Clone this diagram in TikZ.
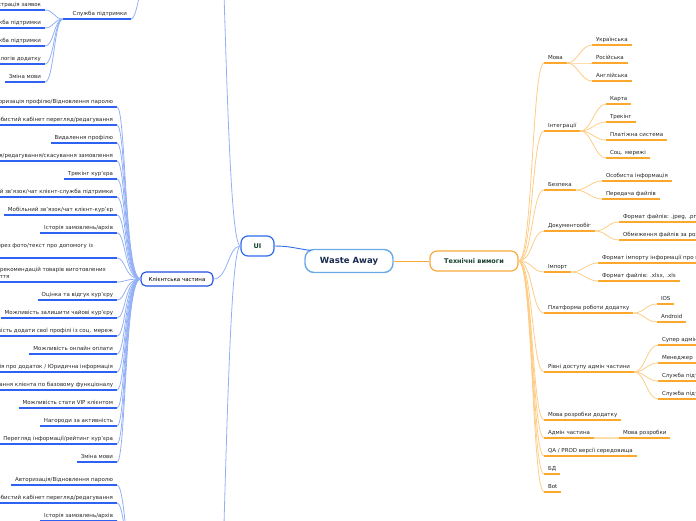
\documentclass[tikz,border=0pt]{standalone}
\usepackage{fontspec}
\setmainfont{DejaVu Sans}
\definecolor{txt}{HTML}{262626}
\definecolor{lblue}{HTML}{2F62F0}
\definecolor{lcur}{HTML}{93B0F6}
\definecolor{uib}{HTML}{2E6BF0}
\definecolor{kcb}{HTML}{1D4FE0}
\definecolor{wab}{HTML}{6AAAE4}
\definecolor{wat}{HTML}{1B2A50}
\definecolor{grn}{HTML}{17412F}
\definecolor{oru}{HTML}{FBA82C}
\definecolor{orc}{HTML}{FDCD86}
\definecolor{orl}{HTML}{FDDDAA}
\definecolor{tvb}{HTML}{F8AA3C}
\newcommand{\LL}[4]{\node[lleaf] (#1) at (#2,#3) {#4}; \draw[bul] (#1.south west) -- (#1.south east);}
\newcommand{\RL}[4]{\node[rleaf] (#1) at (#2,#3) {#4}; \draw[oul] (#1.south west) -- (#1.south east);}
\begin{document}
\begin{tikzpicture}[x=1pt,y=-1pt,
  leafbase/.style={inner xsep=4pt, inner ysep=0pt, outer sep=0pt, text height=4pt, text depth=3.5pt, font=\fontsize{5.5}{7}\selectfont, text=txt},
  lleaf/.style={leafbase, anchor=south east},
  rleaf/.style={leafbase, anchor=south west},
  mleaf/.style={inner xsep=4pt, inner ysep=0pt, outer sep=0pt, align=left, anchor=south east, font=\fontsize{5.5}{7}\selectfont, text=txt},
  bul/.style={draw=lblue, line width=1.8pt},
  bcur/.style={draw=lcur, line width=0.8pt},
  oul/.style={draw=oru, line width=1.8pt},
  ocur/.style={draw=orc, line width=0.8pt},
  olink/.style={draw=orl, line width=1.8pt},
  hub/.style={rounded corners=7pt, fill=white, inner sep=0pt, font=\bfseries\fontsize{6.5}{8}\selectfont},
]
\useasboundingbox (0,0) rectangle (696,520);

% ---------- central nodes ----------
\node[hub, draw=wab, line width=1.4pt, minimum width=88pt, minimum height=23pt, rounded corners=9pt, text=wat, font=\bfseries\fontsize{8.5}{10}\selectfont] (wa) at (349,261) {Waste Away};
\node[hub, draw=uib, line width=1.2pt, minimum width=33pt, minimum height=20pt, text=grn] (ui) at (257.5,246) {UI};
\node[hub, draw=tvb, line width=1.2pt, minimum width=88pt, minimum height=20pt, text=grn] (tv) at (474,261) {Технічні вимоги};
\node[draw=kcb, line width=1.1pt, rounded corners=5pt, fill=white, minimum width=72pt, minimum height=14pt, inner sep=0pt, font=\fontsize{5.5}{7}\selectfont, text=black] (kc) at (177,279) {Клієнтська частина};

\coordinate (wain) at (311,250.5);
\draw[draw=uib, line width=0.9pt] (ui.east) .. controls +(15,0) and +(-15,-2) .. (wain);
\draw[draw=tvb, line width=0.9pt] (wa.east) -- (tv.west);

\coordinate (uptop) at (223,-40);
\coordinate (dnbot) at (223,560);
\draw[bcur] (ui.west) .. controls (232,246) and (228,130) .. (uptop);
\draw[bcur] (ui.west) .. controls (232,246) and (228,380) .. (dnbot);
\draw[bcur] (kc.east) .. controls (228,279) and (228,246) .. (ui.west);

% ---------- top group: Служба підтримки ----------
\LL{t1}{45}{10}{Реєстрація заявок}
\LL{t2}{45}{28}{Мобільний зв'язок/чат клієнт-служба підтримки}
\LL{t3}{45}{46}{Мобільний зв'язок/чат кур'єр-служба підтримки}
\LL{t4}{45}{64}{Перегляд логів додатку}
\LL{t5}{45}{82}{Зміна мови}
\node[lleaf] (sp) at (131,19) {Служба підтримки};
\coordinate (spin) at (63,19);
\draw[bul] (spin) -- (sp.south east);
\foreach \n in {t1,t2,t3,t4,t5}
  \draw[bcur] (\n.south east) .. controls +(9,0) and +(-9,0) .. (spin);
\coordinate (sptop) at (150,-50);
\draw[bcur] (sp.south east) .. controls +(7,0) and +(-8,20) .. (sptop);

% ---------- Клієнтська частина ----------
\LL{l1}{117}{107}{Авторизація профілю/Відновлення паролю}
\LL{l2}{117}{125}{Особистий кабінет перегляд/редагування}
\LL{l3}{117}{143}{Видалення профілю}
\LL{l4}{117}{161}{Створення/редагування/скасування замовлення}
\LL{l5}{117}{179}{Трекінг кур'єра}
\LL{l6}{117}{197}{Мобільний зв'язок/чат клієнт-служба підтримки}
\LL{l7}{117}{215}{Мобільний зв'язок/чат клієнт-кур'єр}
\LL{l8}{117}{233}{Історія замовлень/архів}
\node[mleaf] (l9) at (97,258) {Можливість консультації через фото/текст про допомогу із\\сортуванням\rule[-3.5pt]{0pt}{0pt}};
\coordinate (l9e) at (117,258);
\draw[bul] (l9.south west) -- (l9e);
\node[mleaf] (l10) at (110,282) {Блог рекомендацій товарів виготовлених\\зі сміття\rule[-3.5pt]{0pt}{0pt}};
\coordinate (l10e) at (117,282);
\draw[bul] (l10.south west) -- (l10e);
\LL{l11}{117}{300}{Оцінка та відгук кур'єру}
\LL{l12}{117}{318}{Можливість залишити чайові кур'єру}
\LL{l13}{117}{336}{Можливість додати свої профілі із соц. мереж}
\LL{l14}{117}{354}{Можливість онлайн оплати}
\LL{l15}{117}{372}{Інформація про додаток / Юридична інформація}
\LL{l16}{117}{390}{Навчання клієнта по базовому функціоналу}
\LL{l17}{117}{408}{Можливість стати VIP клієнтом}
\LL{l18}{117}{426}{Нагороди за активність}
\LL{l19}{117}{444}{Перегляд інформації/рейтинг кур'єра}
\LL{l20}{117}{462}{Зміна мови}
\foreach \n in {l1,l2,l3,l4,l5,l6,l7,l8,l11,l12,l13,l14,l15,l16,l17,l18,l19,l20}
  \draw[bcur] (\n.south east) .. controls +(9,0) and +(-16,0) .. (kc.west);
\foreach \n in {l9e,l10e}
  \draw[bcur] (\n) .. controls +(9,0) and +(-16,0) .. (kc.west);

% ---------- bottom group ----------
\LL{b1}{117}{485}{Авторизація/Відновлення паролю}
\LL{b2}{117}{503}{Особистий кабінет перегляд/редагування}
\LL{b3}{117}{521}{Історія замовлень/архів}
\coordinate (lowpar) at (141,580);
\foreach \n in {b1,b2,b3}
  \draw[bcur] (\n.south east) .. controls +(9,0) and +(-16,0) .. (lowpar);

% ---------- Технічні вимоги ----------
\RL{r1}{544}{63}{Мова}
\RL{r1a}{592}{45}{Українська}
\RL{r1b}{592}{63}{Російська}
\RL{r1c}{592}{81}{Англійська}
\RL{r2}{544}{131}{Інтеграції}
\RL{r2a}{606}{104}{Карта}
\RL{r2b}{606}{122}{Трекінг}
\RL{r2c}{606}{140}{Платіжна система}
\RL{r2d}{606}{158}{Соц. мережі}
\RL{r3}{544}{190}{Безпека}
\RL{r3a}{602}{181}{Особиста інформація}
\RL{r3b}{602}{199}{Передача файлів}
\RL{r4}{544}{231}{Документообіг}
\RL{r4a}{619}{222}{Формат файлів: .jpeg, .png}
\RL{r4b}{619}{240}{Обмеження файлів за розміром}
\RL{r5}{544}{272}{Імпорт}
\RL{r5a}{598}{263}{Формат імпорту інформації про продукти}
\RL{r5b}{598}{281}{Формат файлів: .xlsx, .xls}
\RL{r6}{544}{313}{Платформа роботи додатку}
\RL{r6a}{657}{304}{IOS}
\RL{r6b}{657}{322}{Android}
\RL{r7}{544}{372}{Рівні доступу адмін частини}
\RL{r7a}{658}{345}{Супер адмін}
\RL{r7b}{658}{363}{Менеджер}
\RL{r7c}{658}{381}{Служба підтримки}
\RL{r7d}{658}{399}{Служба підтримки}
\RL{r8}{544}{420}{Мова розробки додатку}
\RL{r9}{544}{438}{Адмін частина}
\RL{r9a}{619}{438}{Мова розробки}
\RL{r10}{544}{456}{QA / PROD версії середовища}
\RL{r11}{544}{474}{БД}
\RL{r12}{544}{492}{Bot}
\foreach \n in {r1,r2,r3,r4,r5,r6,r7,r8,r9,r10,r11,r12}
  \draw[ocur] (tv.east) .. controls +(14,0) and +(-12,0) .. (\n.south west);
\foreach \p/\c in {r1/r1a,r1/r1b,r1/r1c,r2/r2a,r2/r2b,r2/r2c,r2/r2d,r3/r3a,r3/r3b,r4/r4a,r4/r4b,r5/r5a,r5/r5b,r6/r6a,r6/r6b,r7/r7a,r7/r7b,r7/r7c,r7/r7d}
  \draw[ocur] (\p.south east) .. controls +(11,0) and +(-11,0) .. (\c.south west);
\draw[olink] (r9.south east) -- (r9a.south west);
\end{tikzpicture}
\end{document}
